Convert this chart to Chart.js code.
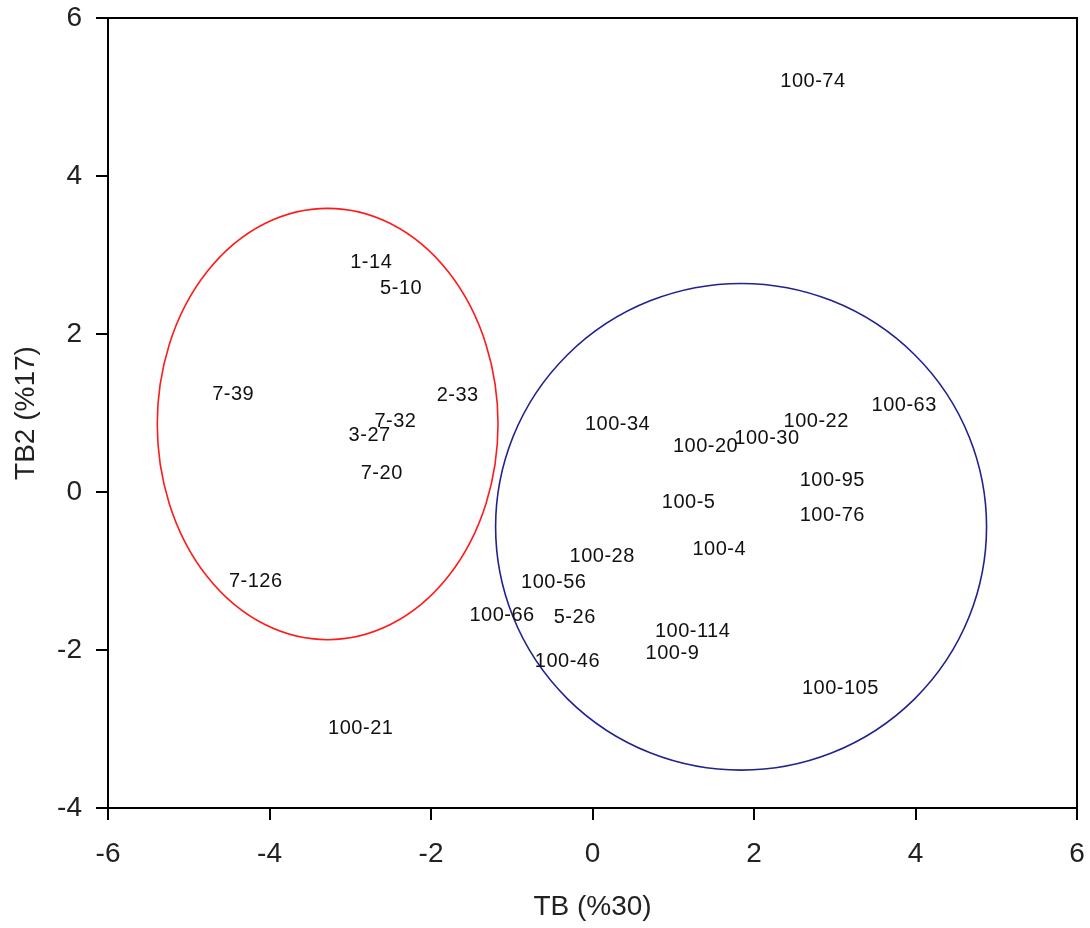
<!DOCTYPE html>
<html lang="en">
<head>
    <meta charset="UTF-8">
    <title>TB scatter</title>
    <script src="https://cdn.jsdelivr.net/npm/chart.js"></script>
    <style>
        body { margin: 0; background: #fff; }
    </style>
</head>
<body>
    <canvas id="scoreChart" width="1090" height="928"></canvas>

    <script>
        // Sample labels and their scores (TB, TB2)
        const sampleNames = ['100-74', '1-14', '5-10', '7-39', '2-33', '7-32', '3-27', '7-20', '7-126', '100-21',
            '100-34', '100-20', '100-30', '100-22', '100-63', '100-95', '100-76', '100-5', '100-4', '100-28',
            '100-56', '100-66', '5-26', '100-114', '100-9', '100-46', '100-105'];
        const tbValues = [2.73, -2.74, -2.37, -4.45, -1.67, -2.44, -2.76, -2.61, -4.17, -2.87,
            0.31, 1.40, 2.16, 2.77, 3.86, 2.97, 2.97, 1.19, 1.57, 0.12,
            -0.48, -1.12, -0.22, 1.24, 0.99, -0.31, 3.07];
        const tb2Values = [5.20, 2.90, 2.58, 1.24, 1.22, 0.89, 0.71, 0.23, -1.13, -2.99,
            0.86, 0.58, 0.68, 0.89, 1.10, 0.15, -0.30, -0.13, -0.73, -0.82,
            -1.14, -1.56, -1.59, -1.76, -2.04, -2.15, -2.49];

        // Group ellipses (in data units)
        const groupCenterX = [-3.28, 1.84];
        const groupCenterY = [0.86, -0.44];
        const groupRadiusX = [2.11, 3.04];
        const groupRadiusY = [2.73, 3.08];
        const groupColors = ['#ff1a1a', '#22228f'];

        const xTicks = [-6, -4, -2, 0, 2, 4, 6];
        const yTicks = [-4, -2, 0, 2, 4, 6];

        const points = sampleNames.map((name, i) => ({ x: tbValues[i], y: tb2Values[i], name: name }));

        // draws the two group ellipses through the chart scales
        const ellipsePlugin = {
            id: 'groupEllipses',
            afterDatasetsDraw(chart) {
                const ctx = chart.ctx;
                const xs = chart.scales.x, ys = chart.scales.y;
                ctx.save();
                for (let i = 0; i < groupCenterX.length; i++) {
                    const cx = xs.getPixelForValue(groupCenterX[i]);
                    const cy = ys.getPixelForValue(groupCenterY[i]);
                    const rx = Math.abs(xs.getPixelForValue(groupCenterX[i] + groupRadiusX[i]) - cx);
                    const ry = Math.abs(ys.getPixelForValue(groupCenterY[i] + groupRadiusY[i]) - cy);
                    ctx.beginPath();
                    ctx.ellipse(cx, cy, rx, ry, 0, 0, Math.PI * 2);
                    ctx.strokeStyle = groupColors[i];
                    ctx.lineWidth = 1.6;
                    ctx.stroke();
                }
                ctx.restore();
            }
        };

        // text labels at each point
        const labelPlugin = {
            id: 'pointLabels',
            afterDatasetsDraw(chart) {
                const ctx = chart.ctx;
                const meta = chart.getDatasetMeta(0);
                ctx.save();
                ctx.font = '20px "Liberation Sans", Arial, sans-serif';
                ctx.fillStyle = '#111';
                ctx.textAlign = 'center';
                ctx.textBaseline = 'middle';
                if ('letterSpacing' in ctx) ctx.letterSpacing = '0.5px';
                meta.data.forEach((pt, i) => {
                    ctx.fillText(points[i].name, pt.x, pt.y);
                });
                ctx.restore();
            }
        };

        // frame around the plot area
        const framePlugin = {
            id: 'frame',
            afterDraw(chart) {
                const a = chart.chartArea;
                const ctx = chart.ctx;
                ctx.save();
                ctx.strokeStyle = '#000';
                ctx.lineWidth = 2;
                ctx.strokeRect(a.left, a.top, a.right - a.left, a.bottom - a.top);
                ctx.restore();
            }
        };

        const tickFont = { family: '"Liberation Sans", Arial, sans-serif', size: 28 };
        const titleFont = { family: '"Liberation Sans", Arial, sans-serif', size: 28 };

        new Chart(document.getElementById('scoreChart'), {
            type: 'scatter',
            data: {
                datasets: [{
                    data: points,
                    pointRadius: 0,
                    pointHoverRadius: 0
                }]
            },
            options: {
                responsive: false,
                animation: false,
                events: [],
                layout: { padding: { top: 18, right: 13, left: 0, bottom: 0 } },
                plugins: {
                    legend: { display: false },
                    tooltip: { enabled: false }
                },
                scales: {
                    x: {
                        type: 'linear',
                        min: -6,
                        max: 6,
                        afterFit(scale) {
                            scale.height = 120;
                            scale.paddingLeft = 0;
                            scale.paddingRight = 0;
                        },
                        afterBuildTicks(scale) { scale.ticks = xTicks.map(v => ({ value: v })); },
                        grid: { drawOnChartArea: false, tickLength: 12, color: '#000', lineWidth: 2 },
                        border: { color: '#000', width: 2 },
                        ticks: { font: tickFont, color: '#222', padding: 17 },
                        title: { display: true, text: 'TB (%30)', font: titleFont, color: '#222', padding: { top: 4, bottom: 4 } }
                    },
                    y: {
                        type: 'linear',
                        min: -4,
                        max: 6,
                        afterFit(scale) {
                            scale.width = 108;
                            scale.paddingTop = 0;
                            scale.paddingBottom = 0;
                        },
                        afterBuildTicks(scale) { scale.ticks = yTicks.map(v => ({ value: v })); },
                        grid: { drawOnChartArea: false, tickLength: 12, color: '#000', lineWidth: 2 },
                        border: { color: '#000', width: 2 },
                        ticks: { font: tickFont, color: '#222', padding: 14 },
                        title: { display: true, text: 'TB2 (%17)', font: titleFont, color: '#222', padding: { top: 9, bottom: 9 } }
                    }
                }
            },
            plugins: [ellipsePlugin, labelPlugin, framePlugin]
        });
    </script>
</body>
</html>
